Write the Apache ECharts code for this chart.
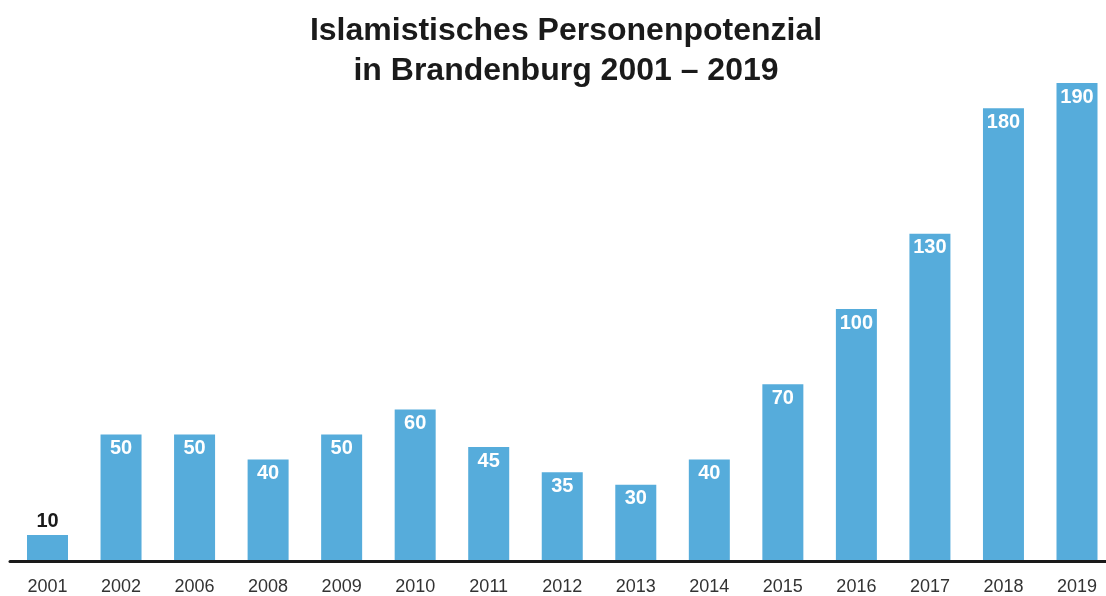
<!DOCTYPE html>
<html>
<head>
<meta charset="utf-8">
<script src="https://cdn.jsdelivr.net/npm/echarts@6/dist/echarts.min.js"></script>
<style>
  html, body { margin: 0; padding: 0; background: #ffffff; }
  #chart { width: 1106px; height: 596px; }
</style>
</head>
<body>
<div id="chart"></div>
<script>
// Islamist persons potential in Brandenburg, by year
const years = ['2001', '2002', '2006', '2008', '2009', '2010', '2011', '2012', '2013', '2014', '2015', '2016', '2017', '2018', '2019'];
const persons = [10, 50, 50, 40, 50, 60, 45, 35, 30, 40, 70, 100, 130, 180, 190];
const titleLines = ['Islamistisches Personenpotenzial', 'in Brandenburg 2001 – 2019'];

const FONT = '"Liberation Sans", Arial, sans-serif';
const barColor = '#56acdb';

// Small bars get their label above the bar in dark text, others inside in white
const barData = persons.map(v => {
  if (v < 20) {
    return {
      value: v,
      label: { position: 'top', distance: 3, color: '#1a1a1a' }
    };
  }
  return v;
});

const plotTop = 58;
const plotHeight = 503;

const chart = echarts.init(document.getElementById('chart'));
chart.setOption({
  animation: false,
  backgroundColor: '#ffffff',
  title: {
    text: titleLines.join('\n'),
    left: 561,
    textAlign: 'center',
    top: 6,
    textStyle: {
      fontFamily: FONT,
      fontSize: 32,
      fontWeight: 'bold',
      color: '#1a1a1a',
      lineHeight: 40
    }
  },
  grid: [
    // full-width baseline
    { left: 10, right: 0, top: plotTop, height: plotHeight },
    // bars
    { left: 47.5, right: 29, top: plotTop, height: plotHeight }
  ],
  xAxis: [
    {
      gridIndex: 0,
      type: 'value',
      min: 0,
      max: 1,
      axisLine: { show: true, lineStyle: { color: '#1a1a1a', width: 3 } },
      axisTick: { show: false },
      axisLabel: { show: false },
      splitLine: { show: false }
    },
    {
      gridIndex: 1,
      type: 'category',
      data: years,
      boundaryGap: false,
      axisLine: { show: false },
      axisTick: { show: false },
      axisLabel: {
        margin: 18,
        fontFamily: FONT,
        fontSize: 18,
        color: '#333333',
        interval: 0
      }
    }
  ],
  yAxis: [
    { gridIndex: 0, type: 'value', min: 0, max: 200, show: false },
    { gridIndex: 1, type: 'value', min: 0, max: 200, show: false }
  ],
  series: [{
    type: 'bar',
    xAxisIndex: 1,
    yAxisIndex: 1,
    data: barData,
    barWidth: 41,
    clip: false,
    itemStyle: { color: barColor },
    z: 1,
    label: {
      show: true,
      position: 'insideTop',
      distance: 4,
      fontFamily: FONT,
      fontSize: 20,
      fontWeight: 'bold',
      color: '#ffffff'
    }
  }]
});
</script>
</body>
</html>
